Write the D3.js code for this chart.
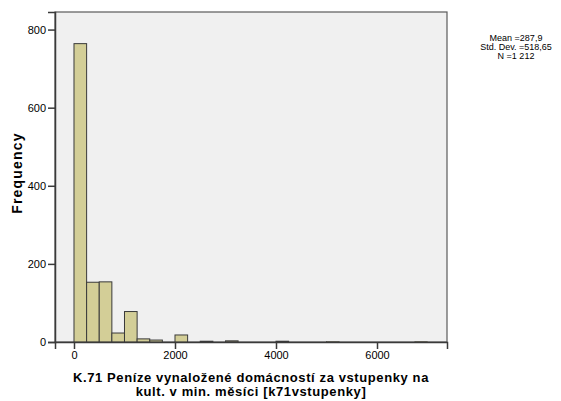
<!DOCTYPE html>
<html>
<head>
<meta charset="utf-8">
<script src="https://cdn.jsdelivr.net/npm/d3@7"></script>
<style>
body { margin: 0; background: #fff; }
svg { display: block; font-family: "Liberation Sans", Arial, sans-serif; }
</style>
</head>
<body>
<div id="chart"></div>
<script>
var width = 561,
    height = 401;

// histogram bins (width 250) and counts
var binStart = 0,
    binWidth = 250;
var counts = [764, 153, 154, 23, 78, 8, 5, 0, 18, 0, 2, 0, 3, 0, 0, 0, 2, 0, 0, 0, 1, 0, 0, 0, 0, 0, 0, 1];
var xTicks = [0, 2000, 4000, 6000],
    yTicks = [0, 200, 400, 600, 800];
var statsLines = ["Mean =287,9", "Std. Dev. =518,65", "N =1 212"];
var titleLines = ["K.71 Peníze vynaložené domácností za vstupenky na", "kult. v min. měsíci [k71vstupenky]"];

var plot = {left: 55, top: 12, right: 447, bottom: 342};

var x = d3.scaleLinear()
        .domain([-376, 7386])
        .range([plot.left, plot.right]),
    y = d3.scaleLinear()
        .domain([0, 845])
        .range([plot.bottom, plot.top]);

var svg = d3.select("#chart")
        .append("svg")
        .attr("width", width)
        .attr("height", height);

// plot background
svg.append("rect")
    .attr("x", plot.left)
    .attr("y", plot.top)
    .attr("width", plot.right - plot.left)
    .attr("height", plot.bottom - plot.top)
    .attr("fill", "#f0f0f0")
    .attr("stroke", "#5a5a5a")
    .attr("stroke-width", 1.2);

var bins = counts.map(function(c, i) {
    return {x0: binStart + i * binWidth, x1: binStart + (i + 1) * binWidth, n: c};
}).filter(function(d) { return d.n > 0; });

svg.selectAll("rect.bar")
    .data(bins)
    .enter()
    .append("rect")
    .attr("class", "bar")
    .attr("x", function(d) { return x(d.x0); })
    .attr("y", function(d) { return y(d.n); })
    .attr("width", function(d) { return x(d.x1) - x(d.x0); })
    .attr("height", function(d) { return y(0) - y(d.n); })
    .attr("fill", "#d3ce97")
    .attr("stroke", "#3a3a3a")
    .attr("stroke-width", function(d) { return d.n < 2 ? 0.4 : 1; });

// axes
var yAxis = d3.axisLeft(y)
    .tickValues(yTicks)
    .tickFormat(d3.format("d"))
    .tickSize(7)
    .tickPadding(2);
var xAxis = d3.axisBottom(x)
    .tickValues(xTicks)
    .tickFormat(d3.format("d"))
    .tickSize(7)
    .tickPadding(2);

var gy = svg.append("g")
    .attr("transform", "translate(" + plot.left + ",0)")
    .call(yAxis);
var gx = svg.append("g")
    .attr("transform", "translate(0," + plot.bottom + ")")
    .call(xAxis);

[gx, gy].forEach(function(g) {
    g.select(".domain").attr("stroke", "#3a3a3a").attr("stroke-width", 1.5);
    g.selectAll(".tick line").attr("stroke", "#3a3a3a").attr("stroke-width", 1.5);
    g.selectAll(".tick text")
        .attr("fill", "#000")
        .style("font-size", "11px")
        .style("font-family", "'Liberation Sans', Arial, sans-serif");
});

// y title
svg.append("text")
    .attr("transform", "translate(22,173) rotate(-90)")
    .attr("text-anchor", "middle")
    .style("font-size", "14px")
    .style("font-weight", "bold")
    .style("letter-spacing", "1.2px")
    .text("Frequency");

// x title
svg.selectAll("text.xtitle")
    .data(titleLines)
    .enter()
    .append("text")
    .attr("class", "xtitle")
    .attr("x", (plot.left + plot.right) / 2)
    .attr("y", function(d, i) { return 382 + i * 14; })
    .attr("text-anchor", "middle")
    .style("font-size", "13px")
    .style("font-weight", "bold")
    .style("letter-spacing", "0.6px")
    .text(function(d) { return d; });

// stats box
svg.selectAll("text.stats")
    .data(statsLines)
    .enter()
    .append("text")
    .attr("class", "stats")
    .attr("x", 516)
    .attr("y", function(d, i) { return 41 + i * 9; })
    .attr("text-anchor", "middle")
    .style("font-size", "9px")
    .text(function(d) { return d; });
</script>
</body>
</html>
